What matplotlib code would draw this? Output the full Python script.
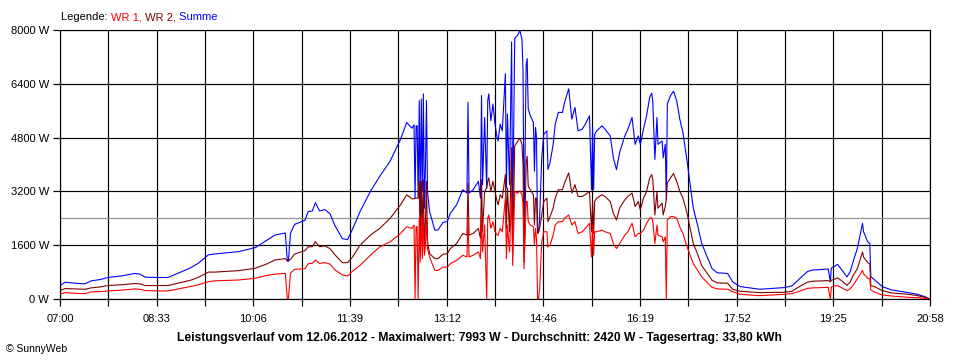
#!/usr/bin/python3

import sys
import numpy as np
import matplotlib
matplotlib.use("Agg")
import matplotlib.pyplot as plt

# Messwerte vom 12.06.2012 (WR 1 = rot, WR 2 = dunkelrot), Summe = WR 1 + WR 2
zeit = [
    "07:00", "07:05", "07:14", "07:24", "07:30", "07:39", "07:46", "07:58",
    "08:12", "08:17", "08:22", "08:34", "08:44", "08:51", "08:57", "09:06",
    "09:13", "09:23", "09:29", "09:39", "09:52", "10:08", "10:19", "10:27",
    "10:37", "10:39", "10:40", "10:42", "10:46", "10:56", "10:59", "11:03",
    "11:06", "11:10", "11:15", "11:20", "11:25", "11:32", "11:37", "11:42",
    "11:49", "11:59", "12:08", "12:18", "12:28", "12:34", "12:39", "12:41",
    "12:42", "12:43", "12:44", "12:45", "12:46", "12:47", "12:48", "12:49",
    "12:50", "12:51", "12:52", "12:53", "12:54", "12:56", "13:01", "13:04",
    "13:09", "13:13", "13:16", "13:22", "13:28", "13:32", "13:33", "13:34",
    "13:38", "13:43", "13:45", "13:46", "13:47", "13:49", "13:51", "13:52",
    "13:53", "13:55", "13:57", "13:59", "14:01", "14:02", "14:04", "14:06",
    "14:09", "14:10", "14:11", "14:13", "14:15", "14:16", "14:18", "14:21",
    "14:23", "14:25", "14:26", "14:27", "14:29", "14:30", "14:31", "14:33",
    "14:36", "14:37", "14:38", "14:39", "14:40", "14:41", "14:42", "14:44",
    "14:46", "14:49", "14:50", "14:52", "14:55", "14:57", "15:00", "15:04",
    "15:06", "15:08", "15:10", "15:13", "15:16", "15:19", "15:23", "15:26",
    "15:30", "15:32", "15:33", "15:34", "15:35", "15:37", "15:42", "15:45",
    "15:50", "15:53", "15:56", "15:59", "16:04", "16:07", "16:11", "16:14",
    "16:17", "16:19", "16:22", "16:25", "16:28", "16:30", "16:31", "16:33",
    "16:35", "16:36", "16:40", "16:41", "16:43", "16:44", "16:45", "16:48",
    "16:51", "16:54", "16:57", "17:00", "17:04", "17:07", "17:10", "17:14",
    "17:18", "17:23", "17:28", "17:33", "17:43", "17:48", "17:55", "18:14",
    "18:38", "18:45", "18:51", "19:00", "19:05", "19:20", "19:22", "19:23",
    "19:26", "19:29", "19:33", "19:38", "19:41", "19:44", "19:48", "19:51",
    "19:53", "19:54", "19:58", "20:00", "20:01", "20:05", "20:12", "20:21",
    "20:37", "20:46", "20:53", "20:58",
]

wr1 = [
    150, 190, 170, 160, 210, 220, 240, 260,
    300, 290, 250, 240, 240, 280, 320, 370,
    420, 515, 540, 550, 565, 615, 700, 740,
    763, 0, 0, 770, 882, 900, 1050, 1061,
    1160, 1061, 1080, 1040, 862, 714, 684, 833,
    1000, 1300, 1550, 1700, 1950, 2150, 2100, 2200,
    0, 2150, 2150, 0, 2400, 1100, 2450, 1200,
    2550, 1300, 1600, 2400, 1500, 1250, 850, 850,
    950, 950, 1050, 1150, 1300, 1250, 2400, 1250,
    1300, 1400, 1200, 2500, 1400, 2200, 0, 2400,
    2500, 2100, 2300, 2000, 1900, 1900, 2100, 2000,
    3000, 1200, 2200, 1400, 3150, 1000, 3200, 3150,
    3220, 3100, 2800, 900, 2900, 2900, 2300, 2200,
    2150, 1600, 2100, 1800, 0, 0, 300, 1700,
    2000, 2000, 1550, 1600, 1900, 2200, 2300, 2300,
    2400, 2450, 2500, 2200, 2300, 1950, 2000, 2100,
    2250, 1250, 2200, 1300, 2000, 2000, 2050, 2000,
    1950, 1650, 1500, 1650, 1900, 2000, 2250, 1850,
    1950, 1950, 2050, 2250, 2400, 2420, 2300, 1650,
    2200, 1900, 1850, 1700, 1850, 0, 2350, 2450,
    2450, 2400, 2150, 1950, 1550, 1300, 1050, 862,
    664, 500, 350, 300, 290, 218, 140, 100,
    140, 160, 218, 317, 330, 347, 0, 360,
    387, 400, 330, 248, 300, 416, 600, 750,
    850, 750, 620, 600, 268, 200, 120, 89,
    50, 40, 20, 0,
]

wr2 = [
    250, 310, 300, 290, 330, 360, 400, 420,
    460, 450, 400, 400, 400, 450, 490, 560,
    640, 800, 800, 820, 843, 912, 1041, 1160,
    1200, 1130, 1130, 1180, 1338, 1440, 1550, 1556,
    1705, 1556, 1580, 1500, 1309, 1081, 1081, 1259,
    1600, 1900, 2100, 2400, 2800, 3100, 2980, 2980,
    3000, 3000, 3000, 3000, 3500, 1500, 3500, 2000,
    3550, 1400, 2300, 3500, 1700, 1350, 1200, 1200,
    1330, 1350, 1500, 1650, 1950, 1900, 3450, 1900,
    1950, 2100, 1800, 3550, 2000, 3200, 3300, 3500,
    3600, 3200, 3500, 3200, 2900, 2800, 3100, 3000,
    3700, 2100, 3300, 2000, 4500, 1350, 4550, 4700,
    4773, 4600, 4000, 1100, 4050, 4250, 3350, 3250,
    3100, 2200, 3000, 3000, 1950, 2000, 2100, 2500,
    2900, 3000, 2300, 2450, 2700, 3000, 3250, 3250,
    3450, 3600, 3750, 3150, 3400, 3050, 3050, 3100,
    3200, 2000, 2900, 1950, 2900, 3000, 3100, 3050,
    2900, 2550, 2350, 2700, 2950, 3050, 3150, 2750,
    2900, 2650, 3000, 3200, 3600, 3700, 3550, 2500,
    3200, 2700, 2850, 2500, 2750, 2950, 3450, 3600,
    3730, 3500, 3200, 3000, 2550, 2100, 1650, 1350,
    1000, 780, 560, 480, 470, 290, 230, 190,
    200, 230, 347, 500, 530, 545, 520, 560,
    585, 630, 540, 410, 500, 700, 900, 1200,
    1400, 1250, 1080, 1050, 400, 360, 250, 180,
    140, 100, 50, 0,
]

x_labels = ["07:00", "08:33", "10:06", "11:39", "13:12",
            "14:46", "16:19", "17:52", "19:25", "20:58"]
y_ticks = [0, 1600, 3200, 4800, 6400, 8000]
durchschnitt = 2420
titel = ("Leistungsverlauf vom 12.06.2012 - Maximalwert: 7993 W - "
         "Durchschnitt: 2420 W - Tagesertrag: 33,80 kWh")

FONT = ["Liberation Sans", "DejaVu Sans"]


def to_minutes(s) -> int:
    '''"HH:MM" -> minutes since midnight'''
    h, m = s.split(":")
    return int(h) * 60 + int(m)


def main():
    """Leistungsverlauf WR 1, WR 2 und Summe"""
    try:
        t = np.array([to_minutes(s) for s in zeit])
        r1 = np.array(wr1)
        r2 = np.array(wr2)
        summe = r1 + r2

        t0 = to_minutes(x_labels[0])
        t1 = to_minutes(x_labels[-1])
        ticks = np.linspace(t0, t1, 2 * (len(x_labels) - 1) + 1)
        tick_labels = []
        for i in range(len(ticks)):
            tick_labels.append(x_labels[i // 2] if i % 2 == 0 else "")

        fig = plt.figure(figsize=(9.6, 3.6), dpi=100)
        ax = fig.add_axes([60 / 960, 61 / 360, 870 / 960, 269 / 360])

        for x in ticks:
            ax.axvline(x, color="black", lw=0.85, zorder=1)
        for y in y_ticks:
            ax.axhline(y, color="black", lw=0.85, zorder=1)
        ax.axhline(durchschnitt, color="#909090", lw=0.85, zorder=1)

        ax.plot(t, summe, color="#0000ff", lw=0.8, zorder=2)
        ax.plot(t, r2, color="#800000", lw=0.8, zorder=3)
        ax.plot(t, r1, color="#ff0000", lw=0.8, zorder=4)

        ax.set_xlim(t0, t1)
        ax.set_ylim(0, 8000)
        ax.set_xticks(ticks)
        ax.set_xticklabels(tick_labels)
        ax.set_yticks(y_ticks)
        ax.set_yticklabels([f"{v} W" for v in y_ticks])
        ax.tick_params(direction="out", length=5, width=0.85, color="black",
                       labelsize=8)
        ax.tick_params(axis="x", pad=6)
        ax.tick_params(axis="y", pad=3)
        for lab in ax.get_xticklabels() + ax.get_yticklabels():
            lab.set_family(FONT)
        for sp in ax.spines.values():
            sp.set_color("black")
            sp.set_linewidth(0.85)

        # Legende
        parts = [("Legende: ", "black"), ("WR 1,", "#ff0000"),
                 (" WR 2,", "#800000"), (" Summe", "#0000ff")]
        prev = fig.text(61 / 960, 1 - 17 / 360, parts[0][0],
                        color=parts[0][1], fontsize=8, family=FONT,
                        va="center", ha="left")
        for txt, col in parts[1:]:
            prev = ax.annotate(txt, xy=(1, 0.5), xycoords=prev,
                               va="center", ha="left", color=col,
                               fontsize=8, family=FONT,
                               annotation_clip=False)

        fig.text(479 / 960, 1 - 338 / 360, titel, fontsize=8.7,
                 fontweight="bold", family=FONT, ha="center", va="center")
        fig.text(6 / 960, 1 - 349 / 360, "\u00a9 SunnyWeb", fontsize=7.5,
                 family=FONT, ha="left", va="center")

        fig.savefig("out.png", dpi=100, facecolor="white")

    except Exception as e:
        print("Error:", e, file=sys.stderr)


if __name__ == "__main__":
    main()
